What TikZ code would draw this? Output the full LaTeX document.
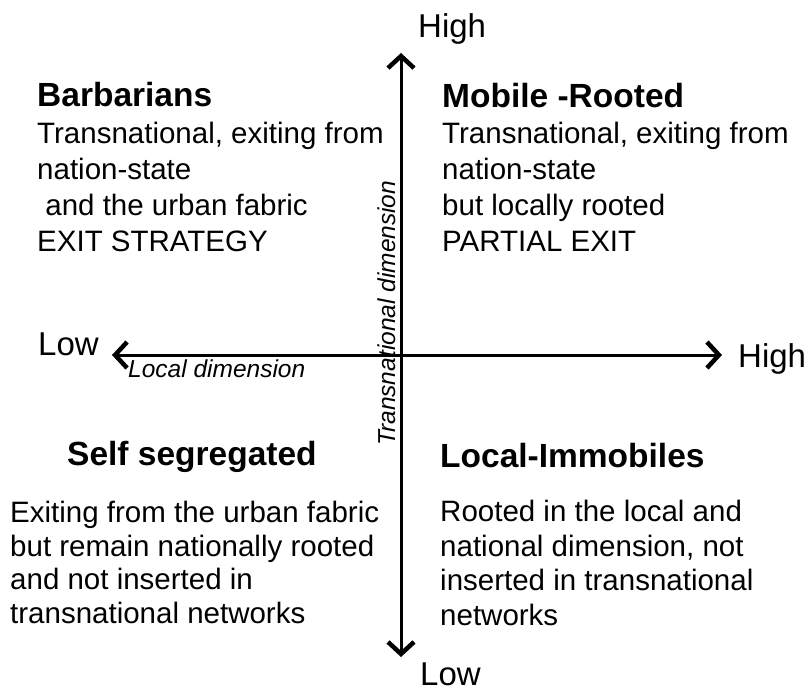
\documentclass[tikz,border=0pt]{standalone}
\usepackage{fontspec}
\setmainfont{Liberation Sans}
\usetikzlibrary{arrows.meta}

\tikzset{
  axis/.style={line width=3pt,
    {Straight Barb[length=12pt,width=26pt,line width=4.5pt]}-{Straight Barb[length=12pt,width=26pt,line width=4.5pt]}},
  endlabel/.style={inner sep=0pt, anchor=base west, font=\fontsize{33}{40}\selectfont},
  dimlabel/.style={inner sep=0pt, anchor=base west, font=\fontsize{24.5}{29}\selectfont\itshape},
  quadtitle/.style={inner sep=0pt, anchor=base west, font=\fontsize{33.5}{38}\selectfont\bfseries},
  % multi-line text: base anchor sits on the last line
  quadtext/.style={inner sep=0pt, anchor=base west, align=left, font=\fontsize{29.5}{35.7}\selectfont},
}

\begin{document}
\begin{tikzpicture}[x=1pt,y=-1pt]
  \def\cx{401}
  \def\cy{355}
  \useasboundingbox (0,0) rectangle (810,691);

  % --- axes ---
  \coordinate (tophigh) at (\cx,53);
  \coordinate (botlow) at (\cx,657);
  \coordinate (leftlow) at (112,\cy);
  \coordinate (righthigh) at (722,\cy);
  \draw[axis] (leftlow) -- (righthigh);
  \draw[axis] (botlow) -- (tophigh);

  % --- axis ends ---
  \node[endlabel] (hightop) at (418,37) {High};
  \node[endlabel] (lowbot) at (420,685) {Low};
  \node[endlabel] (lowleft) at (38,355) {Low};
  \node[endlabel] (highright) at (738,367) {High};

  % --- dimension labels ---
  \node[dimlabel] (localdim) at (128,377) {Local dimension};
  \node[dimlabel, rotate=90] (transdim) at (395,446) {Transnational dimension};

  % --- quadrants ---
  \node[quadtitle] (barb) at (37,106) {Barbarians};
  \node[quadtext] (barbtext) at (37,251)
    {Transnational, exiting from\\nation-state\\\ and the urban fabric\\EXIT STRATEGY};
  \node[quadtitle] (mobile) at (442,107) {Mobile -Rooted};
  \node[quadtext] (mobiletext) at (442,251)
    {Transnational, exiting from\\nation-state\\but locally rooted\\PARTIAL EXIT};

  \node[quadtitle] (selfseg) at (67,465) {Self segregated};
  \node[quadtext, font=\fontsize{29.5}{33.5}\selectfont] (selfsegtext) at (10,623)
    {Exiting from the urban fabric\\but remain nationally rooted\\and not inserted in\\transnational networks};
  \node[quadtitle] (localimm) at (440,467) {Local-Immobiles};
  \node[quadtext, font=\fontsize{29.5}{34.5}\selectfont] (localimmtext) at (440,625)
    {Rooted in the local and\\national dimension, not\\inserted in transnational\\networks};

\end{tikzpicture}
\end{document}
